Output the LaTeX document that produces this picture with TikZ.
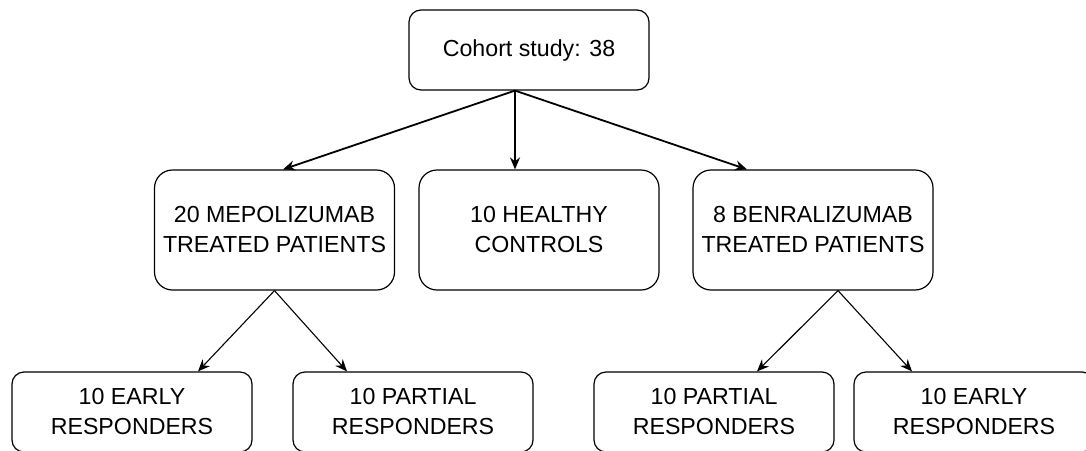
\documentclass[tikz,border=0pt]{standalone}
\usepackage{fontspec}
\setmainfont{Liberation Sans}
\usetikzlibrary{arrows.meta}

\begin{document}
\begin{tikzpicture}[x=0.5pt,y=-0.5pt,>={Stealth[length=6pt,width=5pt]},
    font=\fontsize{11.6}{15}\selectfont,
    every node/.style={align=center,inner sep=0pt},
    box/.style={draw,line width=0.6pt,rounded corners=6pt,minimum width=120pt,minimum height=40pt},
    tallbox/.style={box,rounded corners=9pt,minimum height=60pt},
    thickarrow/.style={->,line width=0.9pt},
    thinarrow/.style={->,line width=0.55pt}]
    \clip (0,0) rectangle (1086,450);
    \fill[white] (0,0) rectangle (1086,450);
    \node[box] (cohort) at (529,50) {Cohort study: 38};
    \node[tallbox] (mepo) at (274.5,230) {20 MEPOLIZUMAB\\TREATED PATIENTS};
    \node[tallbox] (healthy) at (539,230) {10 HEALTHY\\CONTROLS};
    \node[tallbox] (benra) at (813,230) {8 BENRALIZUMAB\\TREATED PATIENTS};
    \node[box] (mepoearly) at (132,412) {10 EARLY\\RESPONDERS};
    \node[box] (mepopartial) at (413,412) {10 PARTIAL\\RESPONDERS};
    \node[box] (benrapartial) at (714,412) {10 PARTIAL\\RESPONDERS};
    \node[box] (benraearly) at (974,412) {10 EARLY\\RESPONDERS};
    \coordinate (split) at ([xshift=-7pt]cohort.south);
    \coordinate (mepofork) at (mepo.south);
    \coordinate (benrafork) at ([xshift=12.5pt]benra.south);
    \draw[thickarrow] (split)--([xshift=4.25pt]mepo.north);
    \draw[thickarrow] (split)--([xshift=-12pt]healthy.north);
    \draw[thickarrow] (split)--([xshift=-33pt]benra.north);
    \draw[thinarrow] (mepofork)--([xshift=33pt]mepoearly.north);
    \draw[thinarrow] (mepofork)--([xshift=-33pt]mepopartial.north);
    \draw[thinarrow] (benrafork)--([xshift=21.5pt]benrapartial.north);
    \draw[thinarrow] (benrafork)--([xshift=-31pt]benraearly.north);
  \end{tikzpicture}
\end{document}
